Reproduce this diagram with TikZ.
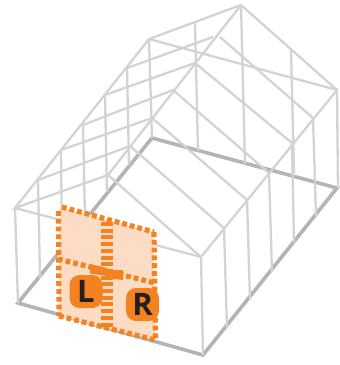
\documentclass[tikz,border=0pt]{standalone}
\usepackage{fontspec}
\setsansfont{Open Sans}
\definecolor{framegray}{HTML}{D1D3D4}
\definecolor{groundgray}{HTML}{B3B4B6}
\definecolor{doororange}{HTML}{F58220}
\definecolor{doorfill}{HTML}{FCDCC4}
\definecolor{letterblack}{HTML}{231F20}
\tikzset{
	frameline/.style={draw=framegray,line width=2.3pt},
	groundline/.style={draw=groundgray,line width=3.6pt,line join=miter},
	doordash/.style={draw=doororange,line width=5.2pt,dash pattern=on 4.8pt off 3pt},
	doordouble/.style={draw=doororange,line width=11.5pt,dash pattern=on 4pt off 2.7pt},
	handle/.style={fill=doororange},
	doorkey/.style={fill=doororange,rounded corners=10pt,minimum size=33pt,inner sep=0pt,text=letterblack,font=\sffamily\bfseries\fontsize{31}{31}\selectfont},
}
\begin{document}
\begin{tikzpicture}[x=1pt,y=-1pt]
	\useasboundingbox (0,0) rectangle (340,365);
	% ground
	\coordinate(FL) at (18,303);
	\coordinate(FR) at (203,355);
	\coordinate(BL) at (152,138);
	\coordinate(BR) at (337,188);
	% left eave
	\coordinate(La) at (15,208);
	\coordinate(Lb) at (38,180);
	\coordinate(Lc) at (61,150);
	\coordinate(Ld) at (83,125);
	\coordinate(Le) at (105,95);
	\coordinate(Lf) at (127,68);
	\coordinate(Lg) at (149,39);
	% ridge
	\coordinate(Ra) at (108,175);
	\coordinate(Rb) at (130,146);
	\coordinate(Rc) at (152,118);
	\coordinate(Rd) at (173,90);
	\coordinate(Re) at (195,63);
	\coordinate(Rg) at (241,5);
	% right eave
	\coordinate(Ea) at (201,257);
	\coordinate(Eb) at (224,228);
	\coordinate(Ec) at (247,200);
	\coordinate(Ed) at (269,173);
	\coordinate(Ee) at (292,143);
	\coordinate(Ef) at (313,118);
	\coordinate(Eg) at (337,90);
	% rafter ends round the gap
	\coordinate(Fl) at (213,37);
	\coordinate(Fr) at (220,37);
	% back wall posts
	\coordinate(Pa) at (195,23);
	\coordinate(Pb) at (291,50);

	\draw[groundline] (FL)--(FR)--(BR)--(BL)--cycle;

	\draw[frameline] (La)--(Lg)--(Rg)--(Eg)--(Ea)--(Ra)--cycle;
	\draw[frameline] (Ra)--(Rg);
	\draw[frameline] (La)--(Ea);
	\draw[frameline] (Lg)--(Eg);
	\draw[frameline] (Lb)--(Rb)--(Eb);
	\draw[frameline] (Lc)--(Rc)--(Ec);
	\draw[frameline] (Ld)--(Rd)--(Ed);
	\draw[frameline] (Le)--(Re)--(Ee);
	\draw[frameline] (Lf)--(Fl);
	\draw[frameline] (Fr)--(Ef);

	\draw[frameline] (La)--(18,303);
	\draw[frameline] (Lb)--(40,278);
	\draw[frameline] (Lc)--(62,248);
	\draw[frameline] (Ld)--(85,220);
	\draw[frameline] (Le)--(107,192);
	\draw[frameline] (Lf)--(129,165);
	\draw[frameline] (Lg)--(152,138);
	\draw[frameline] (Pa)--(198,151);
	\draw[frameline] (Rg)--(245,164);
	\draw[frameline] (Pb)--(294,173);
	\draw[frameline] (Eg)--(338,188);
	\draw[frameline] (Ea)--(203,355);
	\draw[frameline] (Eb)--(227,328);
	\draw[frameline] (Ec)--(250,300);
	\draw[frameline] (Ed)--(272,272);
	\draw[frameline] (Ee)--(294,243);
	\draw[frameline] (Ef)--(316,216);

	% door
	\coordinate(DTL) at (60,207);
	\coordinate(DTR) at (154,232);
	\coordinate(DBL) at (59,316);
	\coordinate(DBR) at (155.5,340);
	\coordinate(DTM) at (107,222);
	\coordinate(DBM) at (107,327);
	\coordinate(DML) at (58,259);
	\coordinate(DMR) at (155,283);
	\fill[doorfill] (DTL)--(DTR)--(DBR)--(DBL)--cycle;
	\draw[doordash] (62,207)--(DTR);
	\draw[doordash] (58.5,211)--(DBL);
	\draw[doordash] (DTR)--(DBR);
	\draw[doordash] (DBL)--(DBR);
	\draw[doordash] (DML)--(DMR);
	\draw[doordouble] (DTM)--(DBM);
	\fill[handle] (90,264)--(107,268)--(107,276)--(90,273.5)--cycle;
	\fill[handle] (107,270)--(123,270)--(123,280)--(107,278)--cycle;
	\node[doorkey](L) at (86,291.5){L};
	\node[doorkey](R) at (142.5,304.5){R};
\end{tikzpicture}
\end{document}
